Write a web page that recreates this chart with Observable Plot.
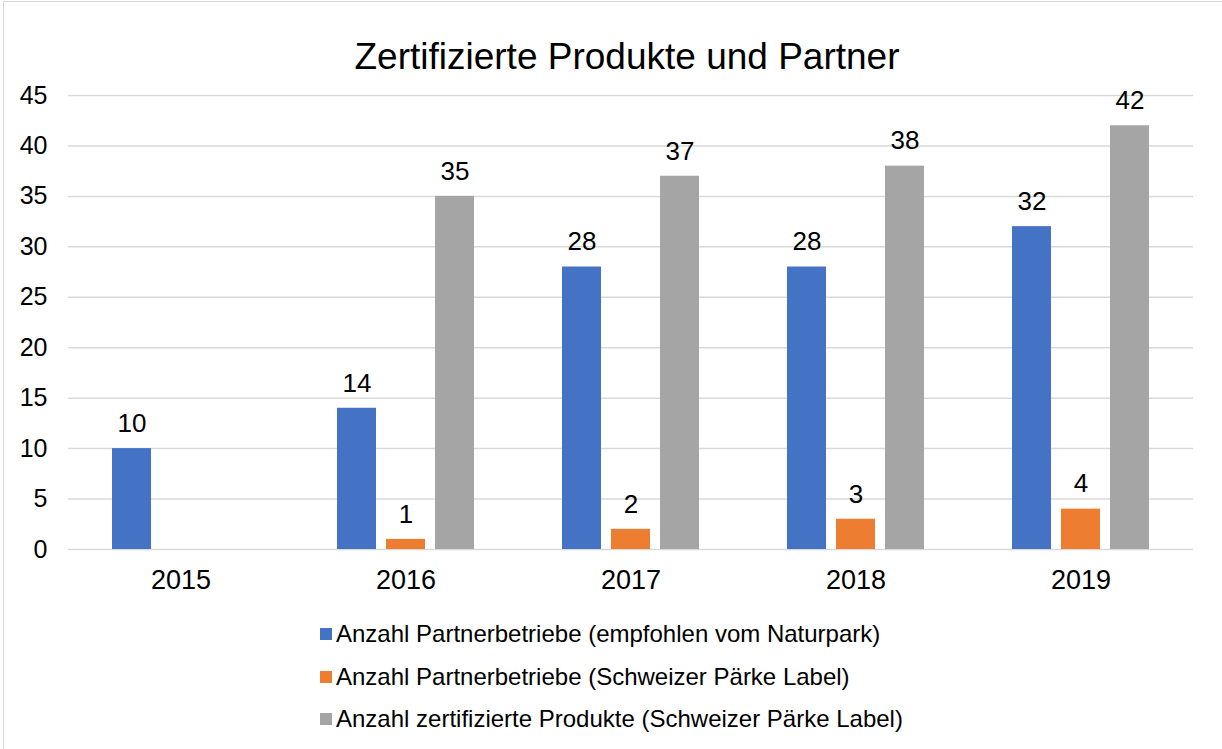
<!DOCTYPE html>
<html>
<head>
<meta charset="utf-8">
<script src="https://cdn.jsdelivr.net/npm/d3@7"></script>
<script src="https://cdn.jsdelivr.net/npm/@observablehq/plot@0.6"></script>
<style>
  html, body { margin: 0; padding: 0; background: #fff; overflow: hidden; }
  body { width: 1222px; height: 749px; position: relative; font-family: "Liberation Sans", Arial, sans-serif; }
  #frame { position: absolute; left: 3px; top: 1px; width: 1240px; height: 770px; border: 1px solid #d9d9d9; box-sizing: border-box; pointer-events: none; }
  #title { margin: 0; padding-top: 35px; padding-left: 32px; height: 44px; line-height: 44px; font-size: 37px; text-align: center; color: #000; }
  #chart svg { display: block; }
  #legend { padding-top: 14px; padding-left: 320px; }
  .item { height: 42.5px; line-height: 42.5px; font-size: 24px; color: #000; display: flex; align-items: center; }
  .sw { width: 12px; height: 12px; margin-right: 4px; display: inline-block; }
</style>
</head>
<body>
<div id="frame"></div>
<div id="title">Zertifizierte Produkte und Partner</div>
<div id="chart"></div>
<div id="legend"></div>
<script>
const years = ["2015", "2016", "2017", "2018", "2019"];
const seriesNames = [
  "Anzahl Partnerbetriebe (empfohlen vom Naturpark)",
  "Anzahl Partnerbetriebe (Schweizer Pärke Label)",
  "Anzahl zertifizierte Produkte (Schweizer Pärke Label)"
];
const partnerNaturpark = [10, 14, 28, 28, 32];
const partnerLabel = [null, 1, 2, 3, 4];
const produkte = [null, 35, 37, 38, 42];
const colors = ["#4472C4", "#ED7D31", "#A5A5A5"];
const yTicks = [0, 5, 10, 15, 20, 25, 30, 35, 40, 45];

const seriesValues = [partnerNaturpark, partnerLabel, produkte];
const data = [];
years.forEach((yr, i) => {
  seriesValues.forEach((vals, s) => {
    if (vals[i] != null) data.push({year: yr, series: seriesNames[s], value: vals[i]});
  });
});

const font = "'Liberation Sans', Arial, sans-serif";
const plot = Plot.plot({
  width: 1222,
  height: 520,
  marginLeft: 68,
  marginRight: 29,
  marginTop: 16,
  marginBottom: 50,
  style: {fontFamily: font, color: "#000", background: "transparent"},
  fx: {domain: years, padding: 0, label: null},
  x: {domain: seriesNames, paddingInner: 0.21, paddingOuter: 0.88, axis: null},
  y: {domain: [0, 45], label: null},
  color: {domain: seriesNames, range: colors},
  marks: [
    Plot.gridY(yTicks, {stroke: "#d9d9d9", strokeOpacity: 1, strokeWidth: 1.5}),
    Plot.axisY(yTicks, {tickSize: 0, tickPadding: 21, fontSize: 25, label: null, fill: "#000"}),
    Plot.axisFx({anchor: "bottom", tickSize: 0, tickPadding: 20, fontSize: 27, label: null, fill: "#000"}),
    Plot.barY(data, {fx: "year", x: "series", y: "value", fill: "series"}),
    Plot.text(data, {fx: "year", x: "series", y: "value", text: d => String(d.value), dy: -25, fontSize: 26, fill: "#000"})
  ]
});
document.getElementById("chart").appendChild(plot);

const legend = document.getElementById("legend");
seriesNames.forEach((name, i) => {
  const item = document.createElement("div");
  item.className = "item";
  const sw = document.createElement("span");
  sw.className = "sw";
  sw.style.background = colors[i];
  item.appendChild(sw);
  item.appendChild(document.createTextNode(name));
  legend.appendChild(item);
});
</script>
</body>
</html>
